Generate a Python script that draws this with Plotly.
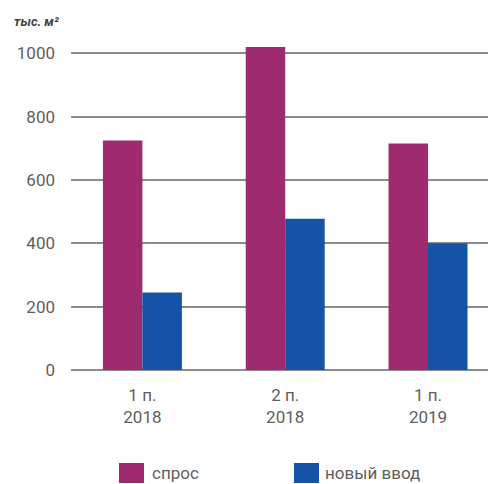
import plotly.graph_objects as go

# Периоды и значения (тыс. м²)
periods = ["1 п.<br>2018", "2 п.<br>2018", "1 п.<br>2019"]
demand = [725, 1020, 715]
new_supply = [245, 478, 400]
series_names = ["спрос", "новый ввод"]
series_colors = ["#9E2A70", "#1553A6"]
y_ticks = [0, 200, 400, 600, 800, 1000]

W, H = 488, 484
M_L, M_R, M_T, M_B = 71, 0, 28, 114
PW, PH = W - M_L - M_R, H - M_T - M_B


def px_to_paper(x, y):
    return (x - M_L) / PW, (H - M_B - y) / PH


fig = go.Figure()
for name, vals, col in zip(series_names, [demand, new_supply], series_colors):
    fig.add_trace(go.Bar(x=periods, y=vals, name=name, marker_color=col,
                         marker_line_width=0, showlegend=False))

text_col = "#5e5e5e"
fig.update_layout(
    width=W, height=H,
    margin=dict(l=M_L, r=M_R, t=M_T, b=M_B),
    paper_bgcolor="white", plot_bgcolor="white",
    barmode="group", bargap=0.447, bargroupgap=0,
    font=dict(family="Roboto", size=17, color=text_col),
    xaxis=dict(range=[-0.5, 2.42], showgrid=False, zeroline=False, showline=False,
               ticks="", ticklabelstandoff=13,
               tickfont=dict(size=17, color=text_col)),
    yaxis=dict(range=[0, 1080], tickvals=y_ticks, showgrid=True,
               gridcolor="#8c8c8c", gridwidth=1.5, zeroline=True,
               zerolinecolor="#8c8c8c", zerolinewidth=1.5, showline=False,
               ticks="", ticklabelstandoff=15,
               tickfont=dict(size=17, color=text_col)),
)

# Подпись единиц измерения
tx, ty = px_to_paper(12, 22)
fig.add_annotation(x=tx, y=ty, xref="paper", yref="paper", xanchor="left",
                   yanchor="middle", showarrow=False, text="<b><i>тыс. м²</i></b>",
                   font=dict(family="Roboto", size=13, color="#444444"))

# Легенда: цветные квадраты и подписи
legend_pos = [(119, 150), (294, 323)]
for (sx, lx), name, col in zip(legend_pos, series_names, series_colors):
    x0, y0 = px_to_paper(sx, 483)
    x1, y1 = px_to_paper(sx + 25, 463)
    fig.add_shape(type="rect", xref="paper", yref="paper", x0=x0, x1=x1,
                  y0=y0, y1=y1, fillcolor=col, line_width=0)
    ax, ay = px_to_paper(lx, 473)
    fig.add_annotation(x=ax, y=ay, xref="paper", yref="paper", xanchor="left",
                       yanchor="middle", showarrow=False, text=name,
                       font=dict(family="Roboto", size=17, color=text_col))

fig.write_html("out.html")
